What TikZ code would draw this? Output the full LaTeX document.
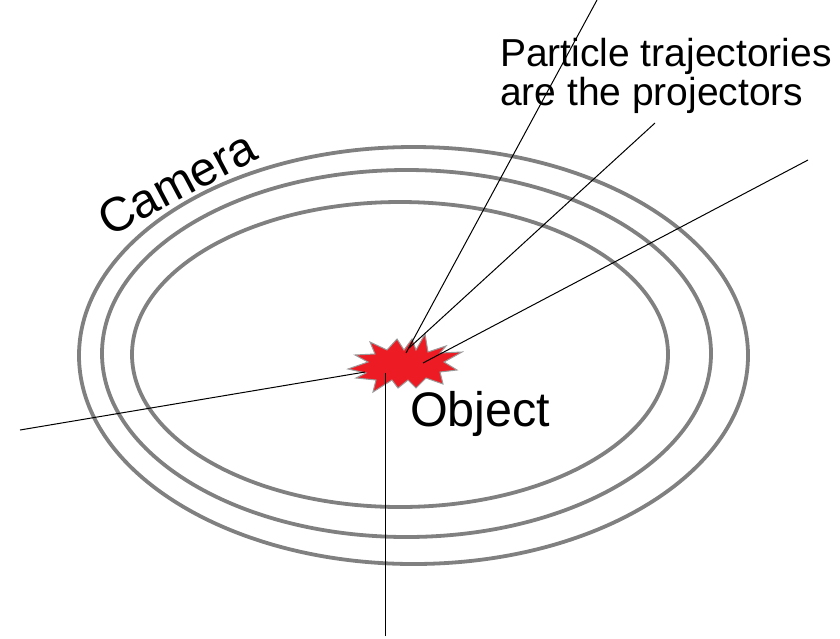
\documentclass[tikz,border=0pt]{standalone}
\usepackage{fontspec}
\setmainfont{Liberation Sans}
\definecolor{ringgray}{HTML}{808080}
\definecolor{starred}{HTML}{ED1C24}
\begin{document}
\begin{tikzpicture}[x=1pt,y=-1pt,
  ring/.style={draw=ringgray,line width=3.8pt},
  proj/.style={draw=black,line width=1pt},
  lbl/.style={inner sep=0pt,outer sep=0pt,text=black}]
\useasboundingbox (0,0) rectangle (840,638);
% rings
\draw[ring] (413.5,355.5) ellipse [x radius=334.5, y radius=208.5];
\draw[ring] (406.5,353.5) ellipse [x radius=304.5, y radius=183.5];
\draw[ring] (400,354.5) ellipse [x radius=268, y radius=152.5];
% projector end points
\coordinate (p1) at (597,0);
\coordinate (p2) at (655,123);
\coordinate (p3) at (808,160);
\coordinate (p4) at (20,430);
\coordinate (p5) at (385,636);
\coordinate (s1) at (406,353);
\coordinate (s2) at (409,348);
\coordinate (s3) at (423,363);
\coordinate (s4) at (365,372);
\coordinate (s5) at (385,373);
% star
\filldraw[fill=starred,draw=ringgray!80,line width=1pt]
 (348,369) -- (368,362) -- (355,355) -- (375,354) -- (370,342) -- (387,350)
 -- (397,339) -- (404,350) -- (412,339) -- (416,350) -- (425,334) -- (428,352)
 -- (446,346) -- (440,353) -- (462,352) -- (444,362) -- (457,370) -- (440,372)
 -- (443,384) -- (426,378) -- (416,388) -- (408,380) -- (398,388) -- (392,380)
 -- (373,392) -- (376,380) -- (356,378) -- (366,373) -- cycle;
\path[proj] (p1) -- (s1);
\path[proj] (p2) -- (s2);
\path[proj] (p3) -- (s3);
\path[proj] (p4) -- (s4);
\path[proj] (p5) -- (s5);
% labels
\node[lbl,anchor=north west,align=left,font=\fontsize{39}{39}\selectfont] (ptxt) at (500,38)
  {Particle trajectories\\are the projectors};
\node[lbl,anchor=base west,font=\fontsize{48.5}{52}\selectfont] (obj) at (410,426) {Object};
\node[lbl,rotate=28,font=\fontsize{48}{52}\selectfont] (cam) at (177,183) {Camera};
\end{tikzpicture}
\end{document}
